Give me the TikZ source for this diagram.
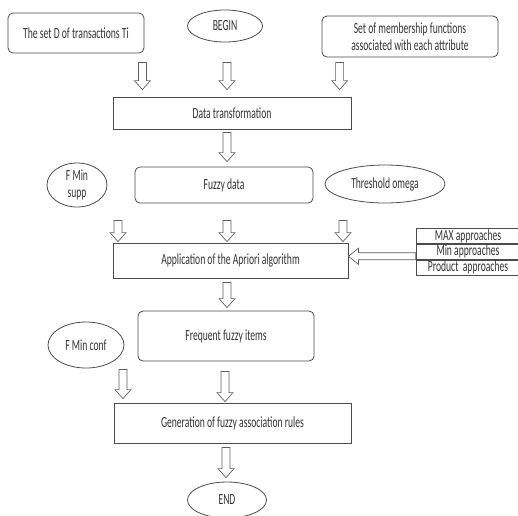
\documentclass[tikz,border=0pt]{standalone}
\usepackage{fontspec}
\setmainfont{Carlito}[FakeStretch=0.62]
\usetikzlibrary{shapes.geometric,calc,positioning}
\definecolor{edge}{RGB}{75,75,75}
\definecolor{ink}{RGB}{50,50,50}
\definecolor{shaft}{RGB}{95,95,95}
% hollow block arrows, x taken from the start point
\newcommand{\blockdown}[2]{\draw[hollow] let \p1=#1, \p2=#2 in
    (\x1-4pt,\y1)--(\x1+4pt,\y1)--(\x1+4pt,\y2+9pt)--(\x1+8pt,\y2+9pt)--(\x1,\y2)
    --(\x1-8pt,\y2+9pt)--(\x1-4pt,\y2+9pt)--cycle;}
\newcommand{\blockleft}[2]{\draw[hollow] let \p1=#1, \p2=#2 in
    (\x1,\y1+3.5pt)--(\x2+10pt,\y1+3.5pt)--(\x2+10pt,\y1+8pt)--(\x2,\y1)
    --(\x2+10pt,\y1-8pt)--(\x2+10pt,\y1-3.5pt)--(\x1,\y1-3.5pt)--cycle;}
\tikzset{
  plain/.style={draw=edge, line width=.8pt, inner sep=0pt, text=ink},
  soft/.style={plain, rounded corners=5pt},
  oval/.style={plain, ellipse},
  cell/.style={plain, minimum width=104pt, minimum height=15pt},
  hollow/.style={draw=shaft, line width=.7pt, fill=white}
}
\begin{document}
\begin{tikzpicture}[x=1pt,y=-1pt,font=\fontsize{15.5}{17.5}\selectfont]
\useasboundingbox (0,0) rectangle (518,515);
\node[soft, minimum width=136pt, minimum height=40pt] (setD) at (76,33) {The set D of transactions Ti};
\node[oval, minimum width=75pt, minimum height=32pt] (begin) at (225,26) {BEGIN};
\node[soft, minimum width=176pt, minimum height=41pt, align=center] (member) at (410,36.5) {Set of membership functions\\associated with each attribute};
\node[plain, minimum width=238pt, minimum height=32pt] (trans) at (232,113) {Data transformation};
\node[soft, minimum width=178pt, minimum height=36pt] (fuzzy) at (224,185) {Fuzzy data};
\node[oval, minimum width=60pt, minimum height=44pt, align=center] (minsupp) at (77,185) {F Min\\supp};
\node[oval, minimum width=120pt, minimum height=38pt] (omega) at (385,184) {Threshold omega};
\node[plain, minimum width=235pt, minimum height=35pt] (apriori) at (230.5,260.5) {Application of the Apriori algorithm};
\node[cell] (maxap) at (468,236) {MAX approaches};
\node[cell, below=0pt of maxap] (minap) {Min approaches};
\node[cell, below=0pt of minap] (prodap) {Product~ approaches};
\node[soft, minimum width=176pt, minimum height=50pt] (freq) at (226,336) {Frequent fuzzy items};
\node[oval, minimum width=76pt, minimum height=46pt] (minconf) at (86,345) {F Min conf};
\node[plain, minimum width=237pt, minimum height=40pt] (gen) at (232.5,423) {Generation of fuzzy association rules};
\node[oval, minimum width=79pt, minimum height=36pt] (endn) at (227,500) {END};
% arrows
\blockdown{($(setD.south east)+(-2,9)$)}{($(trans.north)+(0,-7)$)}
\blockdown{($(begin.south)+(2,20)$)}{($(trans.north)+(0,-7)$)}
\blockdown{($(member.south west)+(18,5)$)}{($(trans.north)+(0,-7)$)}
\blockdown{($(trans.south)+(-5,3)$)}{($(fuzzy.north)+(0,-5)$)}
\blockdown{($(minsupp.south)+(41,13)$)}{($(apriori.north)+(0,-1)$)}
\blockdown{($(fuzzy.south)+(3,17)$)}{($(apriori.north)+(0,-1)$)}
\blockdown{($(omega.south)+(-42,17)$)}{($(apriori.north)+(0,-1)$)}
\blockleft{($(minap.west)+(0,4.5)$)}{(apriori.east)}
\blockdown{($(apriori.south)+(-3.5,4)$)}{($(freq.north)+(0,-3)$)}
\blockdown{($(minconf.south)+(37,1)$)}{($(gen.north)+(0,-4)$)}
\blockdown{($(freq.south)+(-1,10)$)}{($(gen.north)+(0,-1)$)}
\blockdown{($(gen.south)+(-6.5,4)$)}{($(endn.north)+(0,-4)$)}
\end{tikzpicture}
\end{document}
